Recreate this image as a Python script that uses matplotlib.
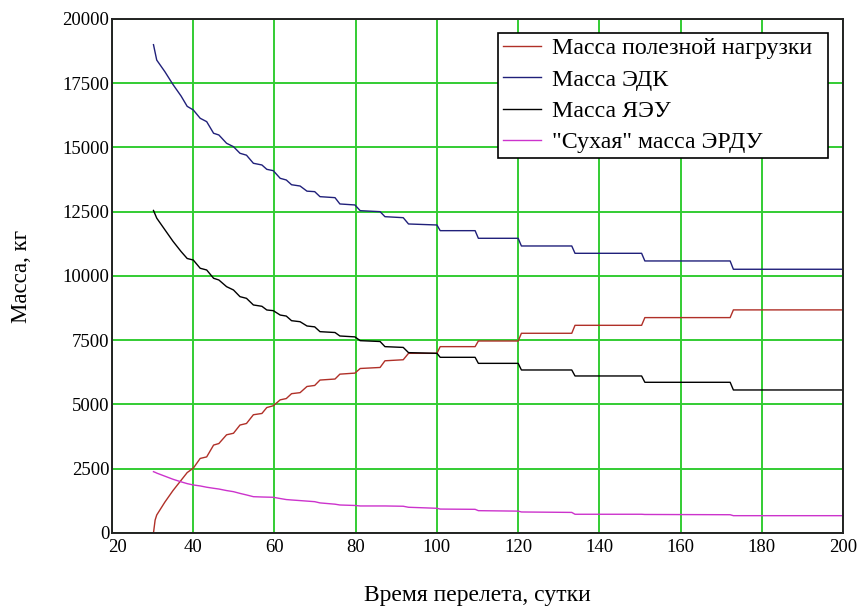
import matplotlib
matplotlib.use("Agg")
import matplotlib.pyplot as plt
from matplotlib.transforms import ScaledTranslation

plt.rcParams["font.family"] = ["Liberation Serif", "DejaVu Serif"]
ft = 13.5

# breakpoints along the transfer time axis (days)
t = [30.2, 30.6, 31, 33, 35, 37, 38.5, 40, 41.7, 43.3, 45, 46.3, 48.2, 49.9,
     51.5, 53.1, 54.8, 56.9, 58.1, 59.7, 61.4, 62.9, 64.2, 66.3, 68, 69.9,
     71.2, 74.9, 76.1, 79.8, 81.1, 86, 87.2, 91.7, 93, 100, 100.8, 109.4,
     110.2, 120, 120.8, 133.2, 134, 150.4, 151.2, 172.2, 173, 200]

m_payload = [0, 500, 700, 1200, 1650, 2050, 2350, 2520, 2900, 2960, 3420, 3480,
             3820, 3880, 4200, 4260, 4600, 4650, 4880, 4950, 5180, 5230, 5420,
             5460, 5700, 5740, 5950, 5990, 6180, 6220, 6400, 6440, 6700, 6740,
             6990, 6990, 7250, 7250, 7470, 7470, 7770, 7770, 8080, 8080, 8380,
             8380, 8680, 8680]

m_edk = [19000, 18700, 18400, 17950, 17450, 17000, 16600, 16460, 16136, 16005,
         15553, 15486, 15163, 15031, 14774, 14700, 14385, 14319, 14150, 14097,
         13800, 13735, 13550, 13500, 13300, 13281, 13086, 13047, 12802, 12763,
         12541, 12502, 12307, 12268, 12023, 11984, 11763, 11763, 11466, 11466,
         11167, 11167, 10882, 10882, 10584, 10584, 10261, 10261]

m_yaeu = [12550, 12400, 12250, 11800, 11350, 10950, 10680, 10620, 10300, 10233,
          9910, 9844, 9584, 9455, 9195, 9130, 8872, 8820, 8677, 8650, 8480,
          8440, 8260, 8220, 8054, 8020, 7833, 7800, 7665, 7630, 7483, 7450,
          7250, 7220, 7017, 6990, 6835, 6835, 6600, 6600, 6342, 6342, 6109,
          6109, 5863, 5863, 5564, 5564]

m_dry = [2385, 2360, 2330, 2210, 2090, 1990, 1920, 1868, 1830, 1780, 1739, 1710,
         1650, 1607, 1540, 1480, 1412, 1400, 1395, 1389, 1340, 1300, 1284, 1260,
         1240, 1218, 1170, 1120, 1089, 1070, 1051, 1051, 1051, 1040, 1000, 961,
         930, 920, 868, 850, 817, 800, 728, 728, 720, 710, 673, 673]

labels = ["Масса полезной нагрузки", "Масса ЭДК", "Масса ЯЭУ", '"Сухая" масса ЭРДУ']

fig = plt.figure(figsize=(8.62, 6.08), dpi=100)
ax = fig.add_axes([0.13, 0.1234, 0.848, 0.8454])

ax.plot(t, m_payload, color="#b03028", lw=1.0, label=labels[0])
ax.plot(t, m_edk, color="#20207a", lw=1.0, label=labels[1])
ax.plot(t, m_yaeu, color="black", lw=1.0, label=labels[2])
ax.plot(t, m_dry, color="#cc33cc", lw=1.0, label=labels[3])

ax.set_xlim(20, 200)
ax.set_ylim(0, 20000)
ax.set_xticks(range(20, 201, 20))
ax.set_yticks(range(0, 20001, 2500))
ax.grid(True, color="#33cc33", lw=1.4)
ax.set_axisbelow(True)
ax.tick_params(length=0, labelsize=ft)
ax.tick_params(axis="y", pad=2)
ax.tick_params(axis="x", pad=4)
for s in ax.spines.values():
    s.set_color("#222222")
    s.set_linewidth(1.4)

# nudge the first x label right so it does not sit on the "0"
fig.canvas.draw()
first = ax.get_xticklabels()[0]
first.set_transform(first.get_transform() + ScaledTranslation(5 / 100, 0, fig.dpi_scale_trans))

ax.set_xlabel("Время перелета, сутки", fontsize=17, labelpad=21)
ax.set_ylabel("Масса, кг", fontsize=16.5, labelpad=22)

handles = ax.get_lines()
leg = ax.legend(handles, [l + "  " for l in labels],
                loc="upper right", bbox_to_anchor=(0.98, 0.973), borderaxespad=0,
                fontsize=17.2, fancybox=False, framealpha=1, edgecolor="black",
                handlelength=1.6, handletextpad=0.45, labelspacing=0.4,
                borderpad=0.2)
leg.get_frame().set_linewidth(1.2)

plt.savefig("out.png", dpi=100)
